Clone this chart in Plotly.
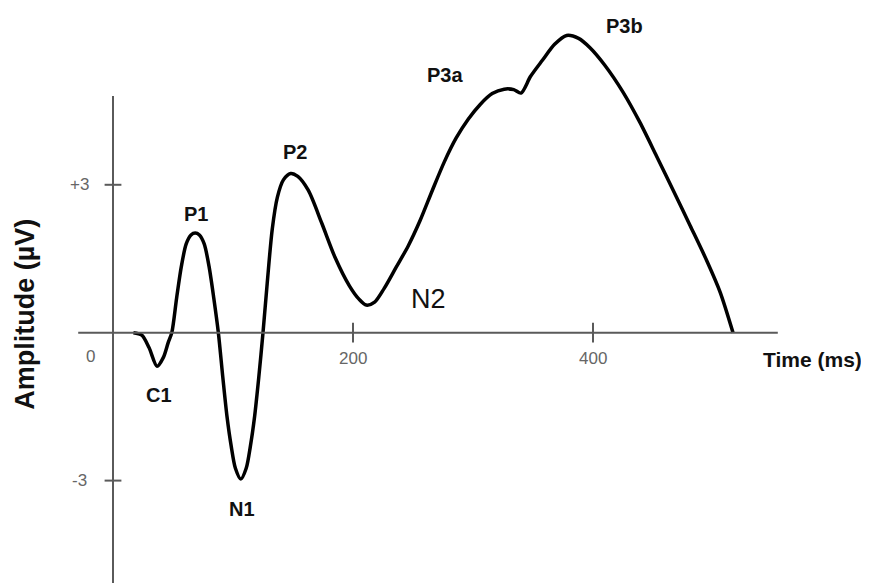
import plotly.graph_objects as go

# ERP waveform (time in ms, amplitude in µV)
time_ms = [17, 24, 30, 36.7, 42, 46, 49, 53, 57, 61, 65, 68.5, 72, 76, 80, 84,
           87.8, 91.5, 95, 98.5, 102, 106.5, 111, 114.5, 118, 121.5, 125,
           128.5, 132.7, 137, 142, 148, 154, 162.7, 174, 185, 197, 205, 211,
           218, 226, 236, 246, 256, 266, 276, 286, 296, 306, 316, 326, 334,
           340, 348, 358, 368, 378, 388, 397.5, 410, 425, 439, 453, 467, 481,
           495, 506, 516.7]
amplitude = [0, -0.05, -0.3, -0.68, -0.5, -0.2, 0, 0.7, 1.35, 1.8, 1.98, 2.02,
             1.98, 1.8, 1.35, 0.7, 0, -0.9, -1.7, -2.3, -2.75, -2.97, -2.75,
             -2.3, -1.7, -0.9, 0, 1.0, 2.1, 2.75, 3.1, 3.23, 3.17, 2.89, 2.22,
             1.53, 0.95, 0.68, 0.56, 0.62, 0.9, 1.33, 1.76, 2.28, 2.88, 3.46,
             3.95, 4.33, 4.63, 4.85, 4.94, 4.93, 4.86, 5.2, 5.53, 5.85, 6.03,
             5.97, 5.78, 5.42, 4.88, 4.27, 3.58, 2.88, 2.17, 1.45, 0.82, 0]

x_ticks = [200, 400]
x_tick_labels = ["200", "400"]
y_ticks = [3, -3]
y_tick_labels = ["+3", "-3"]

peak_names = ["C1", "P1", "N1", "P2", "P3a", "P3b"]
peak_label_t = [38.3, 69, 107.5, 151.7, 277, 426]
peak_label_a = [-1.26, 2.41, -3.57, 3.66, 5.23, 6.22]

x_axis_extent = [-29, 554]
y_axis_extent = [-5.1, 4.8]

fig = go.Figure()
fig.add_trace(go.Scatter(
    x=time_ms, y=amplitude, mode="lines",
    line=dict(color="black", width=3.5, shape="spline", smoothing=0.8),
    hoverinfo="skip", showlegend=False))

axis_col = "#5a5a5a"
shapes = [
    dict(type="line", xref="x", yref="y", x0=x_axis_extent[0], x1=x_axis_extent[1],
         y0=0, y1=0, line=dict(color=axis_col, width=2)),
    dict(type="line", xref="x", yref="y", x0=0, x1=0,
         y0=y_axis_extent[0], y1=y_axis_extent[1], line=dict(color=axis_col, width=2)),
]
for t in x_ticks:
    shapes.append(dict(type="line", xref="x", yref="y", x0=t, x1=t, y0=-0.2, y1=0.2,
                       line=dict(color=axis_col, width=2)))
for v in y_ticks:
    shapes.append(dict(type="line", xref="x", yref="y", x0=-7, x1=7, y0=v, y1=v,
                       line=dict(color=axis_col, width=2)))

ann = []
tick_font = dict(family="Liberation Sans, Arial", size=17, color="#666666")
for t, lab in zip(x_ticks, x_tick_labels):
    ann.append(dict(x=t, y=0, text=lab, showarrow=False, yshift=-26, font=tick_font))
for v, lab in zip(y_ticks, y_tick_labels):
    ann.append(dict(x=0, y=v, text=lab, showarrow=False, xshift=-34, font=tick_font))
ann.append(dict(x=0, y=0, text="0", showarrow=False, xshift=-23, yshift=-24, font=tick_font))

label_font = dict(family="Liberation Sans, Arial", size=20, color="#111111")
for name, t, a in zip(peak_names, peak_label_t, peak_label_a):
    ann.append(dict(x=t, y=a, text="<b>%s</b>" % name, showarrow=False, font=label_font))
ann.append(dict(x=262.5, y=0.68, text="N2", showarrow=False,
                font=dict(family="Liberation Sans, Arial", size=27, color="#111111")))
ann.append(dict(x=583, y=-0.55, text="<b>Time (ms)</b>", showarrow=False,
                font=dict(family="Liberation Sans, Arial", size=21, color="#111111")))
ann.append(dict(x=-73.5, y=0.38, text="<b>Amplitude (µV)</b>", showarrow=False, textangle=-90,
                font=dict(family="Liberation Sans, Arial", size=27, color="#111111")))

# page has an 8px body margin: figure is 861x575 placed at (8, 8)
fig.update_layout(
    width=861, height=575,
    margin=dict(l=0, r=0, t=0, b=0),
    paper_bgcolor="white", plot_bgcolor="white",
    xaxis=dict(range=[-87.5, 630], visible=False, fixedrange=True),
    yaxis=dict(range=[-5.077, 6.586], visible=False, fixedrange=True),
    shapes=shapes, annotations=ann,
)

fig.write_html("out.html")
